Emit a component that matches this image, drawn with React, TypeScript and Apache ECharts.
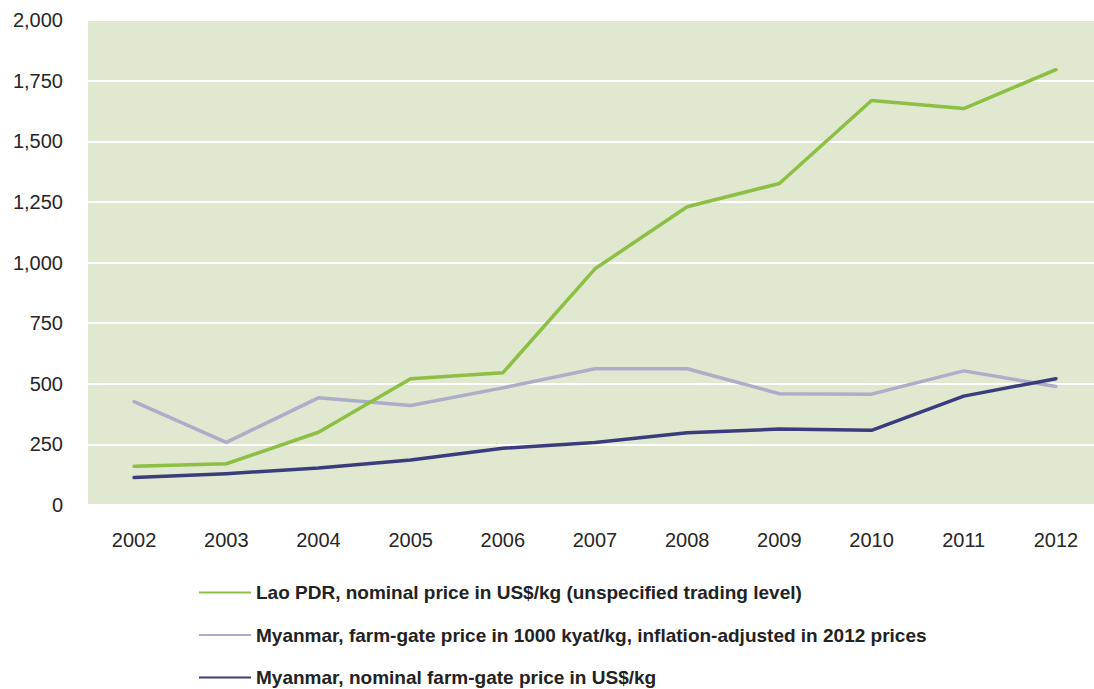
import React, { useEffect, useRef } from "react";
import * as echarts from "echarts";

const years = ["2002", "2003", "2004", "2005", "2006", "2007", "2008", "2009", "2010", "2011", "2012"];
const laoNominalUSD = [160, 170, 300, 521, 545, 974, 1230, 1326, 1668, 1635, 1795];
const myanmarKyatAdjusted = [426, 258, 442, 410, 483, 562, 562, 459, 457, 553, 489];
const myanmarNominalUSD = [113, 129, 153, 186, 234, 258, 298, 313, 308, 449, 521];
const seriesNames = [
  "Lao PDR, nominal price in US$/kg (unspecified trading level)",
  "Myanmar, farm-gate price in 1000 kyat/kg, inflation-adjusted in 2012 prices",
  "Myanmar, nominal farm-gate price in US$/kg",
];
const seriesColors = ["#8CBF44", "#ABADC9", "#3A3D7C"];

export default function App() {
  const ref = useRef<HTMLDivElement>(null);
  useEffect(() => {
    if (!ref.current) return;
    const chart = echarts.init(ref.current, undefined, { renderer: "svg" });
    const font = "'Liberation Sans', Arial, sans-serif";
    const dataSets = [laoNominalUSD, myanmarKyatAdjusted, myanmarNominalUSD];
    chart.setOption({
      animation: false,
      backgroundColor: "#ffffff",
      textStyle: { fontFamily: font },
      grid: {
        left: 88,
        right: 0,
        top: 20,
        bottom: 184,
        show: true,
        backgroundColor: "#E0E8D0",
        borderWidth: 0,
      },
      legend: {
        orient: "vertical",
        left: 199,
        top: 582,
        height: 107,
        padding: 0,
        itemWidth: 52,
        itemHeight: 2,
        itemGap: 21.5,
        icon: "rect",
        textStyle: {
          fontFamily: font,
          fontSize: 19,
          fontWeight: "bold",
          color: "#222",
          lineHeight: 21,
        },
        data: seriesNames,
      },
      xAxis: {
        type: "category",
        data: years,
        boundaryGap: true,
        axisLine: { show: false },
        axisTick: { show: false },
        axisLabel: { fontSize: 20, color: "#262626", margin: 25, fontFamily: font },
        splitLine: { show: false },
      },
      yAxis: {
        type: "value",
        min: 0,
        max: 2000,
        interval: 250,
        axisLine: { show: false },
        axisTick: { show: false },
        axisLabel: {
          fontSize: 20,
          color: "#262626",
          margin: 25,
          fontFamily: font,
          formatter: (v: number) => v.toLocaleString("en-US"),
        },
        splitLine: { show: true, lineStyle: { color: "#ffffff", width: 2 } },
      },
      series: seriesNames.map((name, i) => ({
        name,
        type: "line",
        data: dataSets[i],
        symbol: "none",
        lineStyle: { color: seriesColors[i], width: 3.5, cap: "round", join: "round" },
        itemStyle: { color: seriesColors[i] },
        z: i === 2 ? 4 : i === 0 ? 3 : 2,
      })),
    });
    return () => chart.dispose();
  }, []);
  return (
    <div style={{ position: "absolute", left: 0, top: 0, width: 1094, height: 689, overflow: "hidden" }}>
      <div ref={ref} style={{ width: 1102, height: 689 }} />
    </div>
  );
}
